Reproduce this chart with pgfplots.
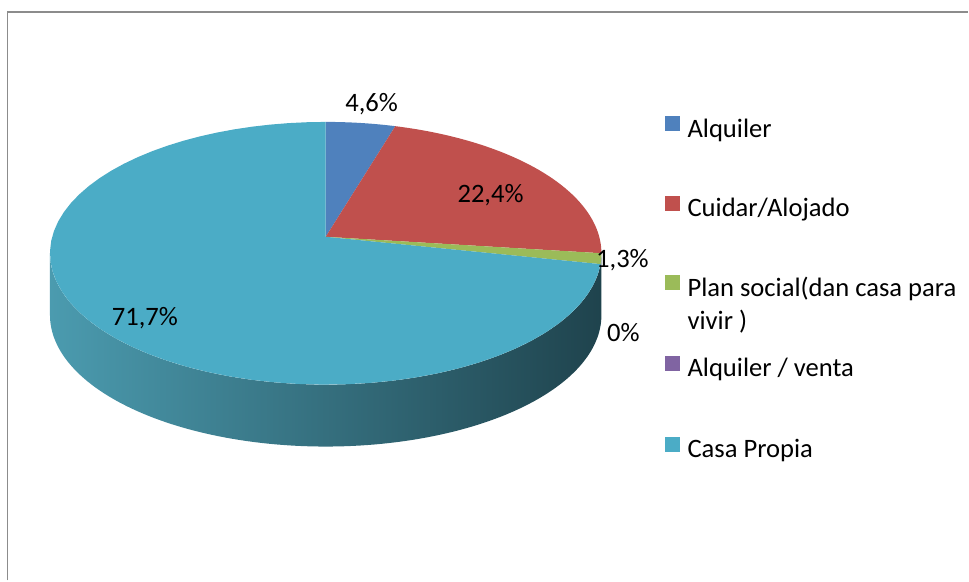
\documentclass[border=0pt]{standalone}
\usepackage{pgfplots}
\pgfplotsset{compat=1.18}
\usepackage{fontspec}
\setmainfont{Carlito}

\definecolor{cAlq}{HTML}{4F81BD}
\definecolor{cCui}{HTML}{C0504D}
\definecolor{cPlan}{HTML}{9BBB59}
\definecolor{cVen}{HTML}{8064A2}
\definecolor{cCasa}{HTML}{4BACC6}
\definecolor{sideL}{HTML}{4B9BAF}
\definecolor{sideM}{HTML}{285C69}
\definecolor{sideR}{HTML}{1F434D}
\definecolor{framec}{HTML}{8C8C8C}

% shares in percent
\def\vAlq{4.6}
\def\vCui{22.4}
\def\vPlan{1.3}
\def\vVen{0}
\def\vCasa{71.7}

% cumulative angles (clockwise from 12 o'clock)
\pgfmathsetmacro\aA{0}
\pgfmathsetmacro\aB{\aA+3.6*\vAlq}
\pgfmathsetmacro\aC{\aB+3.6*\vCui}
\pgfmathsetmacro\aD{\aC+3.6*\vPlan}
\pgfmathsetmacro\aE{\aD+3.6*\vVen}
\pgfmathsetmacro\aF{\aE+3.6*\vCasa}

% tilted disc, slight perspective (picture pixels)
\def\cx{326}\def\cy{237}\def\sx{273.8}\def\sy{129.4}\def\kk{0.1255}\def\dep{62}

\newcommand\slice[3]{%
  \fill[#3] (\cx,\cy) -- plot[domain=#1:#2, samples=60, variable=\t]
    ({\cx+\sx*sin(\t)/(1+\kk*cos(\t))},{\cy-\sy*cos(\t)/(1+\kk*cos(\t))}) -- cycle;}

\newcommand\legentry[3]{% baseline, colour, text
  \fill[#2] (666,#1-21) rectangle (681,#1-6);
  \node[anchor=base west, inner sep=0pt] at (688,#1) {#3};}

\begin{document}
\begin{tikzpicture}
\begin{axis}[scale only axis, width=969bp, height=581bp,
  xmin=0, xmax=969, ymin=0, ymax=581, y dir=reverse,
  hide axis, clip=false]
\path (0,0) rectangle (969,581);
\draw[framec, line width=1.8bp] (7.5,581) -- (7.5,12) -- (969,12);

% visible side of the disc
\shade[left color=sideL, middle color=sideM, right color=sideR]
  plot[domain=97.2:262.8, samples=120, variable=\t]
    ({\cx+\sx*sin(\t)/(1+\kk*cos(\t))},{\cy-\sy*cos(\t)/(1+\kk*cos(\t))})
  -- plot[domain=262.8:97.2, samples=120, variable=\t]
    ({\cx+\sx*sin(\t)/(1+\kk*cos(\t))},{\cy+\dep-\sy*cos(\t)/(1+\kk*cos(\t))})
  -- cycle;

% top face
\slice{\aA}{\aB}{cAlq}
\slice{\aB}{\aC}{cCui}
\slice{\aC}{\aD}{cPlan}
\slice{\aE}{\aF}{cCasa}

\begin{scope}[every node/.style={font=\fontsize{26.7}{30}\selectfont, inner sep=0pt}]
\node[anchor=base] at (372,112) {4,6\%};
\node[anchor=base] at (491,203) {22,4\%};
\node[anchor=base] at (623,268) {1,3\%};
\node[anchor=base] at (624,342) {0\%};
\node[anchor=base] at (145,326) {71,7\%};

\legentry{137.3}{cAlq}{Alquiler}
\legentry{216.7}{cCui}{Cuidar/Alojado}
\legentry{296.7}{cPlan}{Plan social(dan casa para}
\node[anchor=base west] at (688,330) {vivir )};
\legentry{377.3}{cVen}{Alquiler / venta}
\legentry{458.3}{cCasa}{Casa Propia}
\end{scope}
\end{axis}
\end{tikzpicture}
\end{document}
